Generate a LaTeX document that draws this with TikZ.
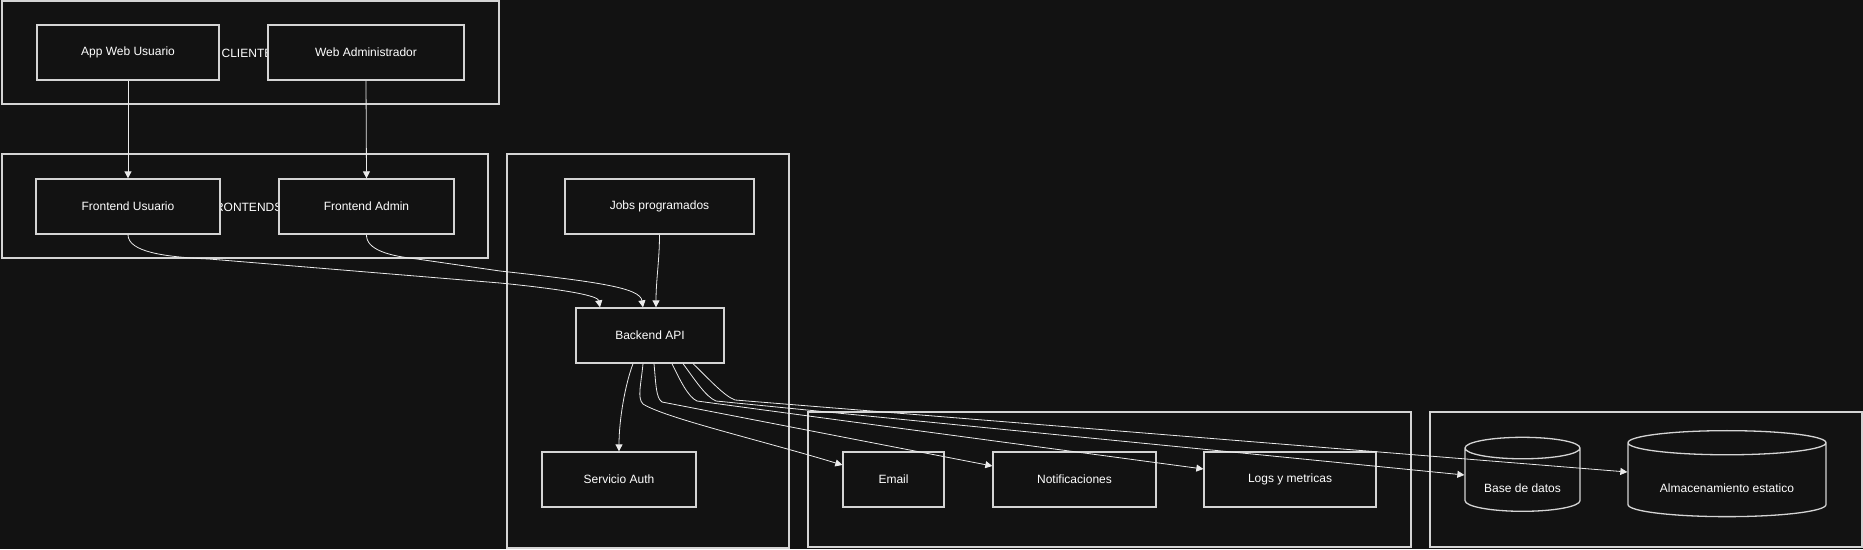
\documentclass[tikz,border=0pt]{standalone}
\usepackage{fontspec}
\setmainfont{Liberation Sans}
\usetikzlibrary{arrows.meta,shapes.geometric,calc}
\pgfdeclarelayer{background}
\pgfsetlayers{background,main}
\definecolor{bgdark}{HTML}{121212}
\definecolor{linegray}{HTML}{D4D4D4}
\definecolor{edgewhite}{HTML}{EAEAEA}
\newcommand{\dbtext}[1]{\raisebox{-8pt}[\height][\depth]{#1}}

\begin{document}
\begin{tikzpicture}[x=1pt,y=-1pt,font=\fontsize{12}{14}\selectfont]
\tikzstyle{box}=[draw=linegray,fill=bgdark,text=white,line width=1.3pt,minimum height=55pt,inner sep=0pt]
\tikzstyle{db}=[box,cylinder,shape border rotate=90,aspect=0.28]
\tikzstyle{cluster}=[draw=linegray,line width=1.3pt]
\tikzstyle{clabel}=[text=white,inner sep=0pt]
\tikzstyle{flow}=[draw=edgewhite,line width=0.8pt,-{Triangle[length=7pt,width=7pt]}]
\useasboundingbox (0,0) rectangle (1863,549);
% clientes / frontends
\node[box,minimum width=182pt] (appweb) at (128,52.5) {App Web Usuario};
\node[box,minimum width=196pt] (webadm) at (366,52.5) {Web Administrador};
\node[box,minimum width=184pt] (feuser) at (128,206.5) {Frontend Usuario};
\node[box,minimum width=175pt] (feadm) at (366.5,206.5) {Frontend Admin};
% backend
\node[box,minimum width=189pt] (jobs) at (659.5,206.5) {Jobs programados};
\node[box,minimum width=148pt] (api) at (650,335.5) {Backend API};
\node[box,minimum width=154pt] (auth) at (619,479.5) {Servicio Auth};
% servicios
\node[box,minimum width=101pt] (email) at (893.5,479.5) {Email};
\node[box,minimum width=163pt] (notif) at (1074.5,479.5) {Notificaciones};
\node[box,minimum width=172pt] (logs) at (1290,479.5) {Logs y metricas};
% datos
\node[db,minimum width=115pt,minimum height=74pt] (db) at (1522.5,480) {\dbtext{Base de datos}};
\node[db,aspect=0.18,minimum width=198pt,minimum height=86pt] (store) at (1727,480) {\dbtext{Almacenamiento estatico}};

\draw[flow] (appweb.south) -- (feuser.north);
\draw[flow] (webadm.south) -- (feadm.north);
\draw[flow] (feuser.south) .. controls (128,252) and (165,257) .. (209,259) -- (500,283) .. controls (570,290) and (598,296) .. ([xshift=-50pt]api.north);
\draw[flow] (feadm.south) .. controls (366,250) and (390,256) .. (417,259) -- (500,271) .. controls (600,282) and (640,288) .. ([xshift=-7pt]api.north);
\draw[flow] (jobs.south) .. controls (659.5,260) and (656,280) .. ([xshift=6pt]api.north);
\draw[flow] ([xshift=-17pt]api.south) .. controls (625,385) and (619,420) .. (auth.north);
\draw[flow] ([xshift=-7pt]api.south) .. controls (641,385) and (637,398) .. (643,404) .. controls (665,418) and (760,440) .. ([yshift=14.5pt]email.west);
\draw[flow] ([xshift=4pt]api.south) .. controls (656,385) and (656,398) .. (662,402) -- ([yshift=13.5pt]notif.west);
\draw[flow] ([xshift=22pt]api.south) .. controls (680,380) and (688,397) .. (697,401) -- ([yshift=10.5pt]logs.west);
\draw[flow] ([xshift=33pt]api.south) .. controls (695,380) and (706,397) .. (716,401) -- ([yshift=5pt]db.west);
\draw[flow] ([xshift=43pt]api.south) .. controls (708,378) and (724,396) .. (735,400) -- ([yshift=8pt]store.west);

\begin{pgfonlayer}{background}
\fill[bgdark] (0,0) rectangle (1863,549);
\draw[cluster] (2,1) rectangle (499,104);
\node[clabel] (clientes) at (251,53) {CLIENTES};
\draw[cluster] (2,154) rectangle (488,258);
\node[clabel] (frontends) at (245,207) {FRONTENDS};
\draw[cluster] (507,154) rectangle (789,548);
\draw[cluster] (808,412) rectangle (1411,547);
\draw[cluster] (1430,412) rectangle (1862,547);
%\node[clabel] (datos) at (1646,480) {DATOS};
\end{pgfonlayer}
\end{tikzpicture}
\end{document}
